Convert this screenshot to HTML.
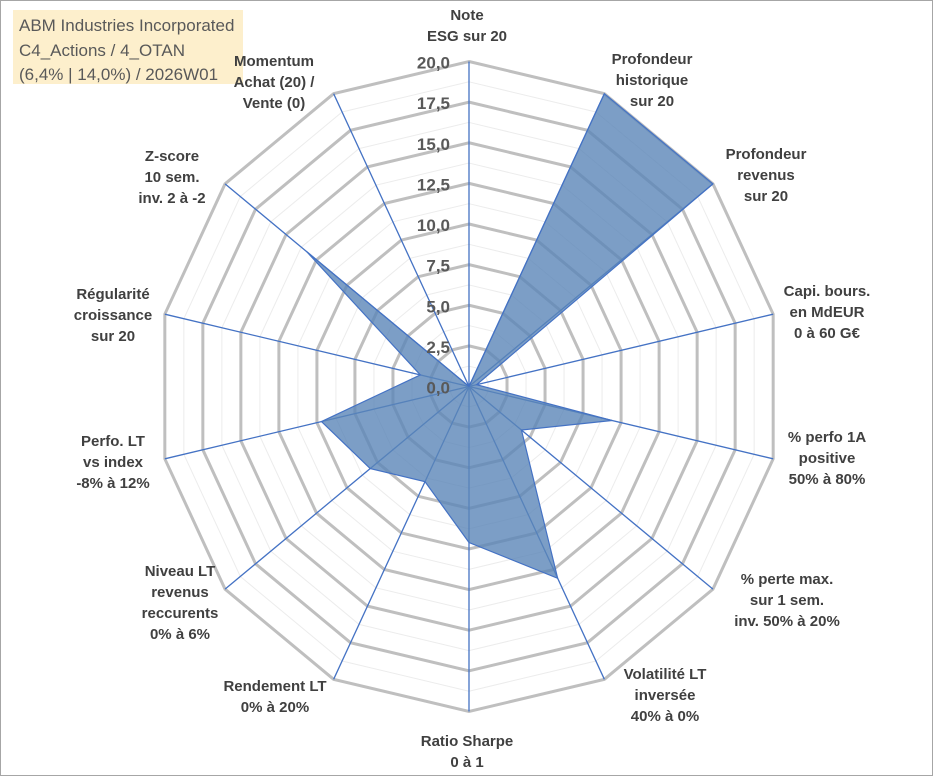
<!DOCTYPE html>
<html><head><meta charset="utf-8"><style>
body{margin:0;background:#fff;}
svg{display:block;font-family:"Liberation Sans",Arial,sans-serif;}
</style></head><body>
<svg width="933" height="776" viewBox="0 0 933 776">
<rect x="0.5" y="0.5" width="932" height="775" fill="#fff" stroke="#a6a6a6"/>
<rect x="13" y="10" width="230" height="74" fill="#fdefcc"/>
<text x="19" y="31" font-size="17" fill="#595959">ABM Industries Incorporated</text>
<text x="19" y="56" font-size="17" fill="#595959">C4_Actions / 4_OTAN</text>
<text x="19" y="80" font-size="17" fill="#595959">(6,4% | 14,0%) / 2026W01</text>
<g id="grid"></g><g id="spokes"></g><g id="series"></g><g id="ticks"></g><g id="cats"></g>
</svg>
<script>
const categories=[["Note","ESG sur 20"],["Profondeur","historique","sur 20"],["Profondeur","revenus","sur 20"],["Capi. bours.","en MdEUR","0 à 60 G€"],["% perfo 1A","positive","50% à 80%"],["% perte max.","sur 1 sem.","inv. 50% à 20%"],["Volatilité LT","inversée","40% à 0%"],["Ratio Sharpe","0 à 1"],["Rendement LT","0% à 20%"],["Niveau LT","revenus","reccurents","0% à 6%"],["Perfo. LT","vs index","-8% à 12%"],["Régularité","croissance","sur 20"],["Z-score","10 sem.","inv. 2 à -2"],["Momentum","Achat (20) /","Vente (0)"]];
const values=[0,20,20,0.5,9.4,4.3,13.1,9.6,6.5,8.1,9.7,3.2,13.3,0];
const tickLabels=["0,0","2,5","5,0","7,5","10,0","12,5","15,0","17,5","20,0"];
const tickValues=[0,2.5,5,7.5,10,12.5,15,17.5,20];
const labelPos=[[467,14],[652,58],[766,153],[827,290],[827,436],[787,578],[665,673],[467,740],[275,685],[180,570],[113,440],[113,293],[172,155],[274,60]];
const NS="http://www.w3.org/2000/svg";
const cx=469,cy=386.5,Rx=312,Ry=325,maxV=20,n=categories.length;
function pt(i,v){const a=2*Math.PI*i/n;const f=v/maxV;return [cx+f*Rx*Math.sin(a),cy-f*Ry*Math.cos(a)];}
function mk(tag,attrs,parent){const e=document.createElementNS(NS,tag);for(const k in attrs)e.setAttribute(k,attrs[k]);document.getElementById(parent).appendChild(e);return e;}
for(let k=1;k<=16;k++){const v=k*1.25;const pts=categories.map((c,i)=>pt(i,v).join(",")).join(" ");
const major=k%2===0;
const e=mk("polygon",{points:pts,fill:"none",stroke:major?"#bfbfbf":"#ececec","stroke-width":major?3:1},"grid");

}
categories.forEach((c,i)=>{const p=pt(i,maxV);const e=mk("line",{x1:cx,y1:cy,x2:p[0],y2:p[1],stroke:"#4472c4","stroke-width":1.3},"spokes");

});
const sp=values.map((v,i)=>pt(i,v).join(",")).join(" ");
const s=mk("polygon",{points:sp,fill:"#5b86b8","fill-opacity":0.8,stroke:"#4472c4","stroke-width":1.2},"series");


tickValues.forEach((v,i)=>{const p=pt(0,v);const t=mk("text",{x:p[0]-19,y:p[1]+7,"text-anchor":"end","font-size":17,"font-weight":"bold",fill:"#595959"},"ticks");t.textContent=tickLabels[i];

});
categories.forEach((c,i)=>{const [x,y]=labelPos[i];c.forEach((line,j)=>{const t=mk("text",{x:x,y:y+6+j*21,"text-anchor":"middle","font-size":15,"font-weight":"bold",fill:"#404040"},"cats");t.textContent=line;

});});
</script>
</body></html>
